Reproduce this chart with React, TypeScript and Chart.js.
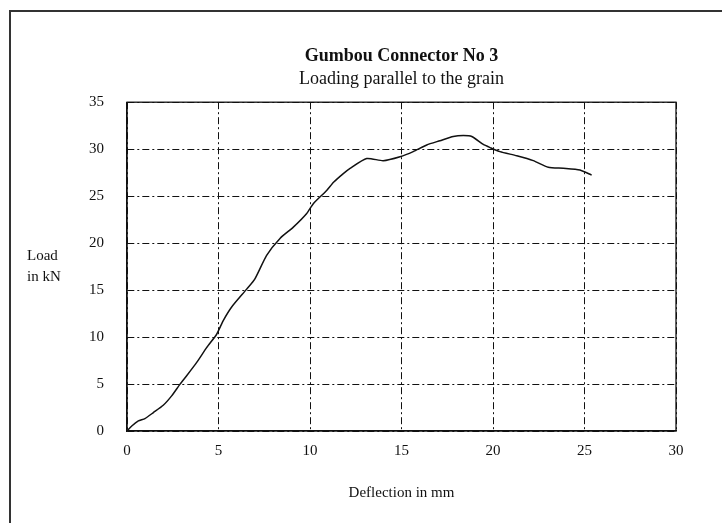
import React, { useEffect, useRef } from "react";
import { Chart, registerables } from "chart.js";

Chart.register(...registerables);

const deflection = [0, 0.26, 0.62, 0.98, 1.44, 1.98, 2.44, 2.9, 3.26, 3.81, 4.36, 4.9, 5.26, 5.72, 6.54, 6.99, 7.63, 8.36, 9.09, 9.82, 10.18, 10.91, 11.3, 11.82, 12.19, 13.1, 14.0, 14.92, 15.64, 16.38, 17.1, 17.83, 18.38, 18.84, 19.47, 19.84, 20.38, 21.3, 22.2, 23.02, 23.84, 24.75, 25.39];
const load = [0, 0.53, 1.07, 1.32, 1.96, 2.74, 3.74, 4.99, 5.88, 7.3, 8.9, 10.3, 11.75, 13.2, 15.1, 16.2, 18.7, 20.5, 21.7, 23.15, 24.2, 25.6, 26.5, 27.4, 27.96, 29.0, 28.78, 29.2, 29.74, 30.45, 30.9, 31.35, 31.45, 31.35, 30.5, 30.17, 29.74, 29.3, 28.78, 28.07, 27.96, 27.78, 27.24];

const xTicks = [0, 5, 10, 15, 20, 25, 30];
const yTicks = [0, 5, 10, 15, 20, 25, 30, 35];

const titleText = "Gumbou Connector No 3";
const subtitleText = "Loading parallel to the grain";
const xTitle = "Deflection in mm";
const yTitleLines = ["Load", "in kN"];

const FONT = "'Liberation Serif', 'Times New Roman', serif";
const INK = "#111";

const framePlugin = {
  id: "plotFrame",
  afterDatasetsDraw(chart: any) {
    const { ctx, chartArea } = chart;
    ctx.save();
    ctx.strokeStyle = INK;
    ctx.lineWidth = 1.3;
    ctx.setLineDash([]);
    ctx.strokeRect(chartArea.left, chartArea.top, chartArea.right - chartArea.left, chartArea.bottom - chartArea.top);
    ctx.restore();
  },
};

const yLabelPlugin = {
  id: "yLabel",
  afterDraw(chart: any) {
    const { ctx, chartArea } = chart;
    ctx.save();
    ctx.fillStyle = INK;
    ctx.font = `15px ${FONT}`;
    ctx.textAlign = "left";
    ctx.textBaseline = "middle";
    const midY = (chartArea.top + chartArea.bottom) / 2;
    ctx.fillText(yTitleLines[0], 27, midY - 11);
    ctx.fillText(yTitleLines[1], 27, midY + 10);
    ctx.restore();
  },
};

const AREA_LEFT = 127;

export default function App() {
  const ref = useRef<HTMLCanvasElement | null>(null);

  useEffect(() => {
    if (!ref.current) return;
    const points = deflection.map((x, i) => ({ x, y: load[i] }));
    const chart = new Chart(ref.current, {
      type: "scatter",
      data: {
        datasets: [
          {
            data: points,
            showLine: true,
            borderColor: INK,
            borderWidth: 1.5,
            pointRadius: 0,
            tension: 0.2,
            fill: false,
          },
        ],
      },
      options: {
        animation: false,
        responsive: false,
        devicePixelRatio: 1,
        layout: { padding: { top: 0, left: 0, right: 46, bottom: 21 } },
        plugins: {
          legend: { display: false },
          tooltip: { enabled: false },
          title: {
            display: true,
            fullSize: false,
            text: titleText,
            color: INK,
            font: { family: FONT, size: 18, weight: "bold" },
            padding: { top: 46, bottom: 0 },
          },
          subtitle: {
            display: true,
            fullSize: false,
            text: subtitleText,
            color: INK,
            font: { family: FONT, size: 18 },
            padding: { top: 1, bottom: 12 },
          },
        },
        scales: {
          x: {
            type: "linear",
            min: 0,
            max: 30,
            afterBuildTicks(scale: any) {
              scale.ticks = xTicks.map((v) => ({ value: v }));
            },
            ticks: {
              color: INK,
              font: { family: FONT, size: 15 },
              padding: 11,
            },
            grid: {
              color: INK,
              lineWidth: 1,
              drawTicks: false,
            },
            border: { display: true, color: INK, width: 1.3, dash: [7, 3, 2, 3] },
            title: {
              display: true,
              text: xTitle,
              color: INK,
              font: { family: FONT, size: 15 },
              padding: { top: 13, bottom: 0 },
            },
          },
          y: {
            type: "linear",
            min: 0,
            max: 35,
            afterBuildTicks(scale: any) {
              scale.ticks = yTicks.map((v) => ({ value: v }));
            },
            afterFit(scale: any) {
              scale.width = AREA_LEFT;
            },
            ticks: {
              color: INK,
              font: { family: FONT, size: 15 },
              padding: 23,
            },
            grid: {
              color: INK,
              lineWidth: 1,
              drawTicks: false,
            },
            border: { display: true, color: INK, width: 1.3, dash: [7, 3, 2, 3] },
          },
        },
      },
      plugins: [framePlugin, yLabelPlugin],
    });
    return () => chart.destroy();
  }, []);

  return (
    <div style={{ position: "fixed", left: 0, top: 0, width: 722, height: 523, background: "#fff", overflow: "hidden" }}>
      <div
        style={{
          position: "absolute",
          left: 9,
          top: 10,
          width: 740,
          height: 540,
          borderLeft: "2px solid #333",
          borderTop: "2px solid #333",
        }}
      />
      <canvas ref={ref} width={722} height={523} style={{ position: "absolute", left: 0, top: 0, width: 722, height: 523 }} />
    </div>
  );
}
